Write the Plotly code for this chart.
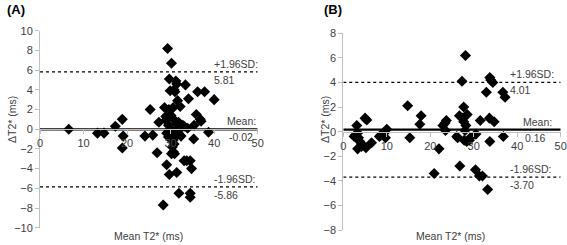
import plotly.graph_objects as go

# Panel A data
a_mean_t2 = [6.6, 13.2, 14.7, 17.3, 18.9, 19.1, 18.9, 24.1, 25.3, 25.9, 26.9, 27.3, 28.9, 28.6, 29.1, 28.3,
             29.3, 30.2, 29.7, 29.9, 30.8, 31.2, 31.4, 31.0, 31.6, 32.2, 30.6, 29.6, 30.1, 29.7, 31.4, 31.9,
             33.4, 34.1, 33.1, 33.7, 34.5, 34.8, 34.5, 34.5, 36.2, 37.8, 35.9, 36.8, 37.0, 35.4, 35.3, 38.7,
             40.0, 28.9, 29.1, 29.5, 29.9, 30.1, 30.4, 30.2, 30.6, 30.8, 30.9, 31.0, 31.2, 31.4, 31.8, 32.2,
             32.5, 32.8, 33.1, 32.4, 30.5, 29.9, 30.9, 29.5, 30.6, 31.8, 33.9]
a_diff = [0.0, -0.4, -0.4, 0.3, 1.0, -0.7, -1.9, -0.7, 2.0, -0.6, -2.4, 0.7, 1.3, 2.2, -3.6, -7.7,
          8.2, 6.7, 5.1, 3.9, 4.0, 4.9, 4.6, 3.8, 2.9, 2.3, 2.2, 2.0, 1.4, -4.6, -4.4, -6.5,
          4.5, 3.1, -3.2, -3.2, -3.2, -4.0, -6.5, -6.9, 3.8, 3.8, 1.5, 1.0, 0.8, 0.4, -1.0, -0.3,
          3.0, 0.9, -0.4, -0.8, -0.4, -1.0, -1.8, -2.5, -2.3, -1.5, -2.5, -0.8, -0.2, 0.5, 0.7, 0.5,
          0.2, 0.4, 0.3, -0.7, -0.2, 0.0, 0.9, 0.4, -1.1, -0.4, 0.1]
a_mean_bias = -0.02
a_upper = 5.81
a_lower = -5.86

# Panel B data
b_mean_t2 = [3.1, 2.7, 2.5, 3.3, 3.5, 3.8, 4.2, 3.3, 4.2, 5.0, 5.4, 5.2, 6.5, 8.3, 8.6, 9.4, 9.7, 10.0,
             14.8, 15.3, 17.6, 17.9, 20.9, 22.0, 22.9, 23.4, 23.7, 23.5, 26.1, 26.3, 26.7, 26.8, 27.3,
             28.1, 27.7, 27.5, 28.2, 28.5, 27.8, 28.4, 29.0, 29.2, 28.0, 27.7, 30.4, 30.5, 31.5, 31.3,
             32.0, 32.9, 33.2, 33.7, 33.9, 34.4, 33.6, 34.7, 33.7, 36.7, 37.2, 36.8]
b_diff = [0.5, -0.3, -0.4, -0.1, -0.5, -0.8, -1.0, -1.4, -1.2, 1.1, 0.95, -1.3, -0.9, -0.4, -0.3, -0.1, -0.5, 0.2,
          2.1, -0.5, 0.6, 1.3, -3.4, -1.4, 0.5, 0.7, 0.9, 0.1, -0.4, -0.5, 1.3, -2.8, 4.1,
          6.2, 2.0, 1.1, 0.5, 1.4, -0.7, -0.8, -0.7, -0.5, 0.1, 0.8, -3.1, -0.2, 0.9, -3.6,
          -3.6, 3.2, -4.7, 4.4, 4.2, 4.0, 1.1, 0.8, -0.8, 3.2, 2.8, -0.4]
b_mean_bias = 0.16
b_upper = 4.01
b_lower = -3.70

x_ticks = [0, 10, 20, 30, 40, 50]
a_y_ticks = [-10, -8, -6, -4, -2, 0, 2, 4, 6, 8, 10]
b_y_ticks = [-8, -6, -4, -2, 0, 2, 4, 6, 8]

FONT = "Liberation Sans, Arial, sans-serif"
TXT = "#404040"
AX = "#bfbfbf"

W, H = 567, 245

def px_x(p):
    return p / W

def px_y(p):
    return 1 - p / H

fig = go.Figure()

def add_panel(xr, yr, xs, ys, bias, up, lo):
    for v in (up, lo):
        fig.add_trace(go.Scatter(x=[0, 50], y=[v, v], mode="lines",
                                 line=dict(color="black", width=1.3, dash="dot"),
                                 xaxis=xr, yaxis=yr, hoverinfo="skip", showlegend=False))
    fig.add_trace(go.Scatter(x=[0, 50], y=[bias, bias], mode="lines",
                             line=dict(color="black", width=2.2),
                             xaxis=xr, yaxis=yr, hoverinfo="skip", showlegend=False))
    fig.add_trace(go.Scatter(x=xs, y=ys, mode="markers",
                             marker=dict(symbol="diamond", size=8.5, color="black"),
                             xaxis=xr, yaxis=yr, showlegend=False))

add_panel("x", "y", a_mean_t2, a_diff, a_mean_bias, a_upper, a_lower)
add_panel("x2", "y2", b_mean_t2, b_diff, b_mean_bias, b_upper, b_lower)

ax_common = dict(showgrid=False, zeroline=False, showline=True, linecolor=AX, linewidth=1,
                 automargin=False, ticks="outside", tickcolor=AX, ticklen=4,
                 tickfont=dict(family=FONT, size=11, color=TXT))

a_dom_y = [px_y(227.7), px_y(30.7)]
b_dom_y = [px_y(230), px_y(33.3)]

fig.update_layout(
    width=W, height=H, margin=dict(l=0, r=0, t=0, b=0),
    paper_bgcolor="white", plot_bgcolor="white",
    font=dict(family=FONT, color=TXT),
    xaxis=dict(domain=[px_x(40), px_x(257.7)], range=[0, 50], tickvals=x_ticks, anchor="free",
               position=(a_dom_y[0] + a_dom_y[1]) / 2, **ax_common),
    yaxis=dict(domain=a_dom_y, range=[-10, 10], tickvals=a_y_ticks, anchor="x", **ax_common),
    xaxis2=dict(domain=[px_x(343.3), px_x(560.7)], range=[0, 50], tickvals=x_ticks, anchor="free",
                position=(b_dom_y[0] + b_dom_y[1]) / 2, **ax_common),
    yaxis2=dict(domain=b_dom_y, range=[-8, 8], tickvals=b_y_ticks, anchor="x2", **ax_common),
)

ann = []
def lab(text, x, y, xr, yr, yanchor):
    ann.append(dict(text=text, x=x, y=y, xref=xr, yref=yr, xanchor="left", yanchor=yanchor,
                    showarrow=False, font=dict(family=FONT, size=10.5, color=TXT)))

lab("+1.96SD:", 39.4, a_upper, "x", "y", "bottom")
lab("%.2f" % a_upper, 39.4, a_upper, "x", "y", "top")
lab("Mean:", 42.6, a_mean_bias, "x", "y", "bottom")
lab("%.2f" % a_mean_bias, 42.9, a_mean_bias, "x", "y", "top")
lab("-1.96SD:", 39.4, a_lower, "x", "y", "bottom")
lab("%.2f" % a_lower, 39.4, a_lower, "x", "y", "top")

lab("+1.96SD:", 37.8, b_upper, "x2", "y2", "bottom")
lab("%.2f" % b_upper, 37.8, b_upper, "x2", "y2", "top")
lab("Mean:", 40.9, b_mean_bias, "x2", "y2", "bottom")
lab("%.2f" % b_mean_bias, 41.4, b_mean_bias, "x2", "y2", "top")
lab("-1.96SD:", 37.9, b_lower, "x2", "y2", "bottom")
lab("%.2f" % b_lower, 37.9, b_lower, "x2", "y2", "top")

def paper_text(text, px, py, size=10.5, bold=False, angle=0, color=TXT):
    ann.append(dict(text=("<b>%s</b>" % text) if bold else text, x=px_x(px), y=px_y(py),
                    xref="paper", yref="paper", xanchor="center", yanchor="middle", textangle=angle,
                    showarrow=False, font=dict(family=FONT, size=size, color=color)))

paper_text("(A)", 16, 9, size=13, bold=True, color="black")
paper_text("(B)", 333, 9, size=13, bold=True, color="black")
paper_text("ΔT2* (ms)", 12, 120, angle=-90)
paper_text("ΔT2* (ms)", 325, 120, angle=-90)
paper_text("Mean T2* (ms)", 148, 236)
paper_text("Mean T2* (ms)", 450, 236)

fig.update_layout(annotations=ann)
fig.write_html("out.html", config={"displayModeBar": False},
               post_script="document.body.style.margin='0';document.body.style.padding='0';")
